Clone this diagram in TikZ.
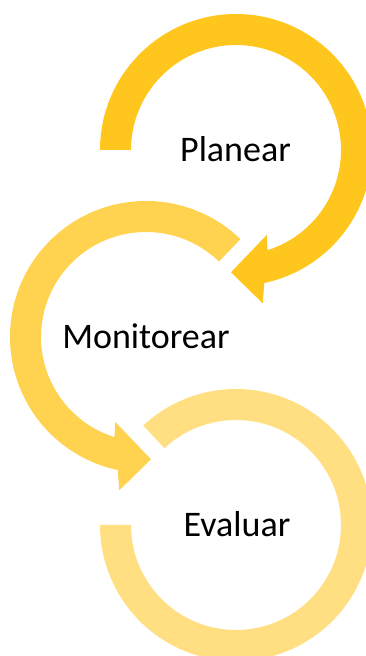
\documentclass[tikz,border=0pt]{standalone}
\usepackage{fontspec}
\setmainfont{Carlito}
\definecolor{cA}{RGB}{255,198,30}
\definecolor{cB}{RGB}{255,211,80}
\definecolor{cC}{RGB}{255,223,130}
\begin{document}
\begin{tikzpicture}[x=1pt,y=1pt,
  lbl/.style={anchor=base,inner sep=0pt,font=\fontsize{36}{43}\selectfont,text=black}]
\useasboundingbox (0,0) rectangle (366,656);
\clip (0,0) rectangle (366,656);
% top arrow: Planear
\begin{scope}[shift={(236,506)}]
\fill[cA] (180:136pt) arc[start angle=180, end angle=-78, radius=136pt]
  -- (26.7pt,-153.3pt) -- (-5pt,-122.3pt) -- (30.7pt,-85pt)
  -- (-72.5:105pt) arc[start angle=-72.5, end angle=180, radius=105pt] -- cycle;
\end{scope}
% middle arrow: Monitorear
\begin{scope}[shift={(146,319)}]
\fill[cB] (46:136pt) arc[start angle=46, end angle=258, radius=136pt]
  -- (-26.7pt,-153.3pt) -- (5pt,-122.3pt) -- (-30.7pt,-85pt)
  -- (252.5:105pt) arc[start angle=252.5, end angle=46, radius=105pt] -- cycle;
\end{scope}
% bottom arc: Evaluar
\begin{scope}[shift={(236,131)}]
\fill[cC] (133:136pt) arc[start angle=133, end angle=-180, radius=136pt]
  -- (180:105pt) arc[start angle=-180, end angle=133, radius=105pt] -- cycle;
\end{scope}
\node[lbl] (planear) at (235.5,494.3) {Planear};
\node[lbl] (monitorear) at (146,307.7) {Monitorear};
\node[lbl] (evaluar) at (237,119.3) {Evaluar};
\end{tikzpicture}
\end{document}
